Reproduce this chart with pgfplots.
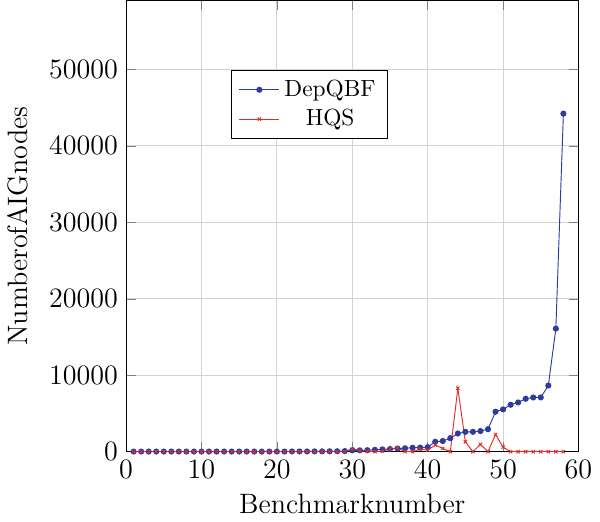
\documentclass[border=0pt]{standalone}
\usepackage{pgfplots}
\pgfplotsset{compat=1.18}
\definecolor{depblue}{RGB}{45,60,160}
\definecolor{hqsred}{RGB}{225,45,40}
\begin{document}
\begin{tikzpicture}
\begin{axis}[
  scale only axis,
  width=193.5pt, height=193pt,
  xmin=0, xmax=60, ymin=0, ymax=59000,
  xtick={0,10,20,30,40,50,60},
  ytick={0,10000,20000,30000,40000,50000},
  scaled y ticks=false,
  yticklabel style={/pgf/number format/1000 sep={}},
  tick label style={font=\large},
  label style={font=\large},
  ylabel style={yshift=2pt},
  grid=major,
  major grid style={gray!35},
  xlabel={Benchmarknumber},
  ylabel={NumberofAIGnodes},
  legend style={at={(0.233,0.846)}, anchor=north west, cells={anchor=center}},
  legend cell align=center,
]
\addplot[depblue, mark=*, mark size=1.1pt] coordinates {
(1,20)(2,20)(3,20)(4,20)(5,20)(6,20)(7,20)(8,20)(9,20)(10,20)
(11,20)(12,20)(13,20)(14,20)(15,20)(16,20)(17,20)(18,20)(19,20)(20,20)
(21,20)(22,30)(23,30)(24,30)(25,40)(26,40)(27,50)(28,60)(29,80)(30,170)
(31,180)(32,200)(33,250)(34,300)(35,350)(36,420)(37,450)(38,520)(39,540)(40,600)
(41,1300)(42,1400)(43,1770)(44,2380)(45,2600)(46,2600)(47,2700)(48,2940)(49,5230)(50,5530)
(51,6140)(52,6440)(53,6920)(54,7090)(55,7100)(56,8650)(57,16100)(58,44200)
};
\addlegendentry{DepQBF}
\addplot[hqsred, mark=x, mark size=1pt] coordinates {
(1,10)(2,10)(3,10)(4,10)(5,10)(6,10)(7,10)(8,10)(9,10)(10,10)
(11,10)(12,10)(13,10)(14,10)(15,10)(16,10)(17,10)(18,10)(19,10)(20,10)
(21,10)(22,10)(23,10)(24,10)(25,10)(26,10)(27,0)(28,0)(29,0)(30,350)
(31,170)(32,60)(33,0)(34,60)(35,350)(36,500)(37,0)(38,0)(39,350)(40,200)
(41,870)(42,430)(43,0)(44,8300)(45,1300)(46,0)(47,950)(48,0)(49,2250)(50,600)
(51,0)(52,0)(53,0)(54,0)(55,0)(56,0)(57,0)(58,0)
};
\addlegendentry{HQS}
\end{axis}
\end{tikzpicture}
\end{document}
